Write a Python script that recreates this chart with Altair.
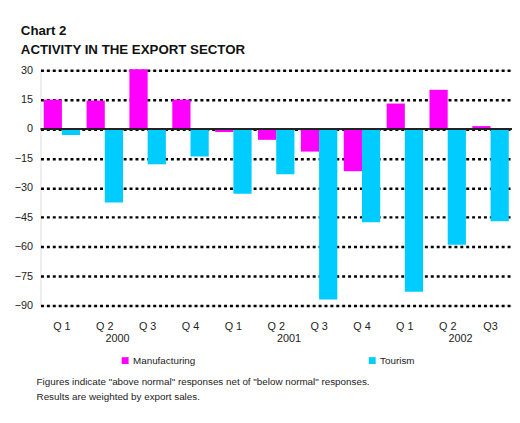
import altair as alt
import pandas as pd

quarters = ["Q 1", "Q 2", "Q 3", "Q 4", "Q 1", "Q 2", "Q 3", "Q 4", "Q 1", "Q 2", "Q3"]
manufacturing = [15, 14.5, 30.5, 15, -1.5, -5.5, -11.5, -21.5, 13, 20, 1.5]
tourism = [-3, -37.5, -18, -14, -33, -23, -87, -47.5, -83, -59, -47]
years = ["2000", "2001", "2002"]
year_quarter_index = [1, 5, 9]
series = ["Manufacturing", "Tourism"]
colors = ["#ff00ff", "#00ccff"]
y_ticks = [30, 15, 0, -15, -30, -45, -60, -75, -90]
footnote = ['Figures indicate "above normal" responses net of "below normal" responses.',
            'Results are weighted by export sales.']

FONT = "Liberation Sans"

rows = []
for i in range(len(quarters)):
    rows.append({"idx": i, "series": series[0], "value": manufacturing[i]})
    rows.append({"idx": i, "series": series[1], "value": tourism[i]})
bars_df = pd.DataFrame(rows)

label_expr = "[" + ",".join("'" + q + "'" for q in quarters) + "][datum.value]"

x_scale = alt.Scale(paddingInner=0.15, paddingOuter=0.075)
x_axis = alt.Axis(labelExpr=label_expr, title=None, domain=False, ticks=False,
                  labelAngle=0, labelPadding=15, labelFontSize=11,
                  labelColor="#222", labelFont=FONT)
y_scale = alt.Scale(domain=[-90, 30], nice=False, zero=False)
y_axis = alt.Axis(values=y_ticks, title=None, domain=False, ticks=False, grid=True,
                  gridDash=[3, 3], gridWidth=2.5, gridColor="#000", gridOpacity=1,
                  labelOverlap=False,
                  labelFontSize=11, labelPadding=8, labelColor="#222", labelFont=FONT)

bars = alt.Chart(bars_df).mark_bar().encode(
    x=alt.X("idx:O", scale=x_scale, axis=x_axis),
    xOffset=alt.XOffset("series:N", sort=series, scale=alt.Scale(paddingInner=0, paddingOuter=0)),
    y=alt.Y("value:Q", scale=y_scale, axis=y_axis),
    color=alt.Color("series:N",
                    scale=alt.Scale(domain=series, range=colors),
                    legend=alt.Legend(orient="none", legendX=81, legendY=290,
                                      direction="horizontal", title=None,
                                      symbolType="square", symbolSize=49,
                                      symbolStrokeWidth=0, labelFontSize=10,
                                      labelFont=FONT, labelOffset=3,
                                      columnPadding=174, labelColor="#222")),
)

zero_rule = alt.Chart(pd.DataFrame({"v": [0]})).mark_rule(color="#222", strokeWidth=2).encode(
    y=alt.Y("v:Q", scale=y_scale, axis=y_axis)
)

years_df = pd.DataFrame({"idx": year_quarter_index, "year": years})
year_text = alt.Chart(years_df).mark_text(fontSize=11, dx=13, baseline="middle",
                                          font=FONT, color="#222").encode(
    x=alt.X("idx:O", scale=x_scale, axis=x_axis),
    y=alt.value(273),
    text="year:N",
)

foot_df = pd.DataFrame({"t": ["\n".join(footnote)]})
foot_text = alt.Chart(foot_df).mark_text(align="left", baseline="middle", fontSize=10,
                                         font=FONT, color="#222", lineBreak="\n",
                                         lineHeight=15).encode(
    x=alt.value(-4),
    y=alt.value(317),
    text="t:N",
)

chart = alt.layer(bars, zero_rule, year_text, foot_text).properties(
    width=479,
    height=239,
    title=alt.TitleParams(text=["Chart 2", "ACTIVITY IN THE EXPORT SECTOR"],
                          anchor="start", frame="group", dx=-20, fontSize=13.5,
                          font=FONT, fontWeight="bold", lineHeight=19, offset=8,
                          color="#111"),
    autosize=alt.AutoSizeParams(type="none"),
    padding={"left": 33, "top": 60, "right": 0, "bottom": 105},
).configure_view(stroke=None).configure(font=FONT, background="white")

chart.save("out.html", embed_options={"renderer": "svg", "actions": False})
